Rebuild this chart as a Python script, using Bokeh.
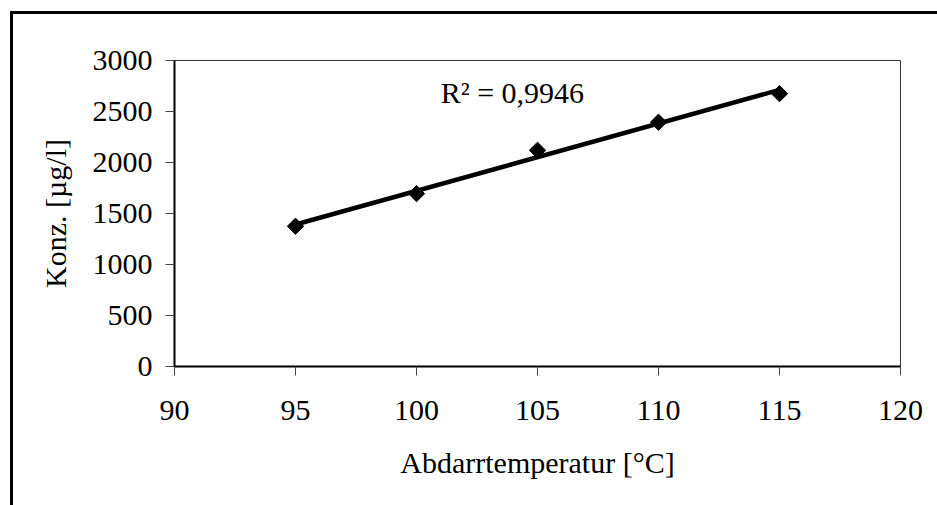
import numpy as np
from bokeh.plotting import figure
from bokeh.models import Label, FixedTicker, Range1d
from bokeh.embed import file_html
from bokeh.resources import INLINE

# ---- data ----
temps = [95, 100, 105, 110, 115]
konz = [1375, 1695, 2120, 2395, 2675]
x_ticks = [90, 95, 100, 105, 110, 115, 120]
y_ticks = [0, 500, 1000, 1500, 2000, 2500, 3000]
x_title = "Abdarrtemperatur [°C]"
y_title = "Konz. [µg/l]"
r2_text = "R² = 0,9946"

FONT = "Liberation Serif"
FS = "30px"
W, H = 937, 505

p = figure(width=W, height=H, output_backend="svg", toolbar_location=None,
           x_range=Range1d(90, 120), y_range=Range1d(0, 3000),
           min_border_left=174, min_border_right=37,
           min_border_top=60, min_border_bottom=139,
           background_fill_color=None, border_fill_color=None)

# outer chart border: only its top and left edges fall inside the window
# (both bars run past the page edge and are clipped there)
p.styles = {
    "background-color": "white",
    "background-image": "linear-gradient(black, black), linear-gradient(black, black)",
    "background-size": "3px 700px, 1200px 3px",
    "background-position": "10px 11px, 10px 11px",
    "background-repeat": "no-repeat",
}

p.xgrid.visible = False
p.ygrid.visible = False
p.outline_line_color = "#333333"
p.outline_line_width = 1

p.xaxis.ticker = FixedTicker(ticks=x_ticks)
p.yaxis.ticker = FixedTicker(ticks=y_ticks)
for ax in (p.xaxis[0], p.yaxis[0]):
    ax.axis_line_color = "black"
    ax.axis_line_width = 2
    ax.major_tick_line_color = "#444444"
    ax.major_tick_line_width = 1
    ax.major_tick_out = 9
    ax.major_tick_in = 0
    ax.minor_tick_line_color = None
    ax.major_label_text_font = FONT
    ax.major_label_text_font_size = FS
    ax.major_label_text_color = "black"
    ax.axis_label_text_font = FONT
    ax.axis_label_text_font_size = FS
    ax.axis_label_text_font_style = "normal"
    ax.axis_label_text_color = "black"

p.xaxis.axis_label = x_title
p.yaxis.axis_label = y_title
p.xaxis.major_label_standoff = 25
p.yaxis.major_label_standoff = 13
p.xaxis.axis_label_standoff = 23
p.yaxis.axis_label_standoff = 18

# linear trendline fitted to the data
coef = np.polyfit(temps, konz, 1)
tx = [min(temps), max(temps)]
ty = list(np.polyval(coef, tx))
p.line(tx, ty, line_color="black", line_width=4.5)

p.scatter(temps, konz, marker="square", angle=np.pi / 4, size=11.5,
          fill_color="black", line_color="black")

p.add_layout(Label(x=101.0, y=2685, text=r2_text, text_font=FONT,
                   text_font_size=FS, text_baseline="alphabetic",
                   text_color="black"))

open("out.html", "w").write(file_html(p, INLINE))
